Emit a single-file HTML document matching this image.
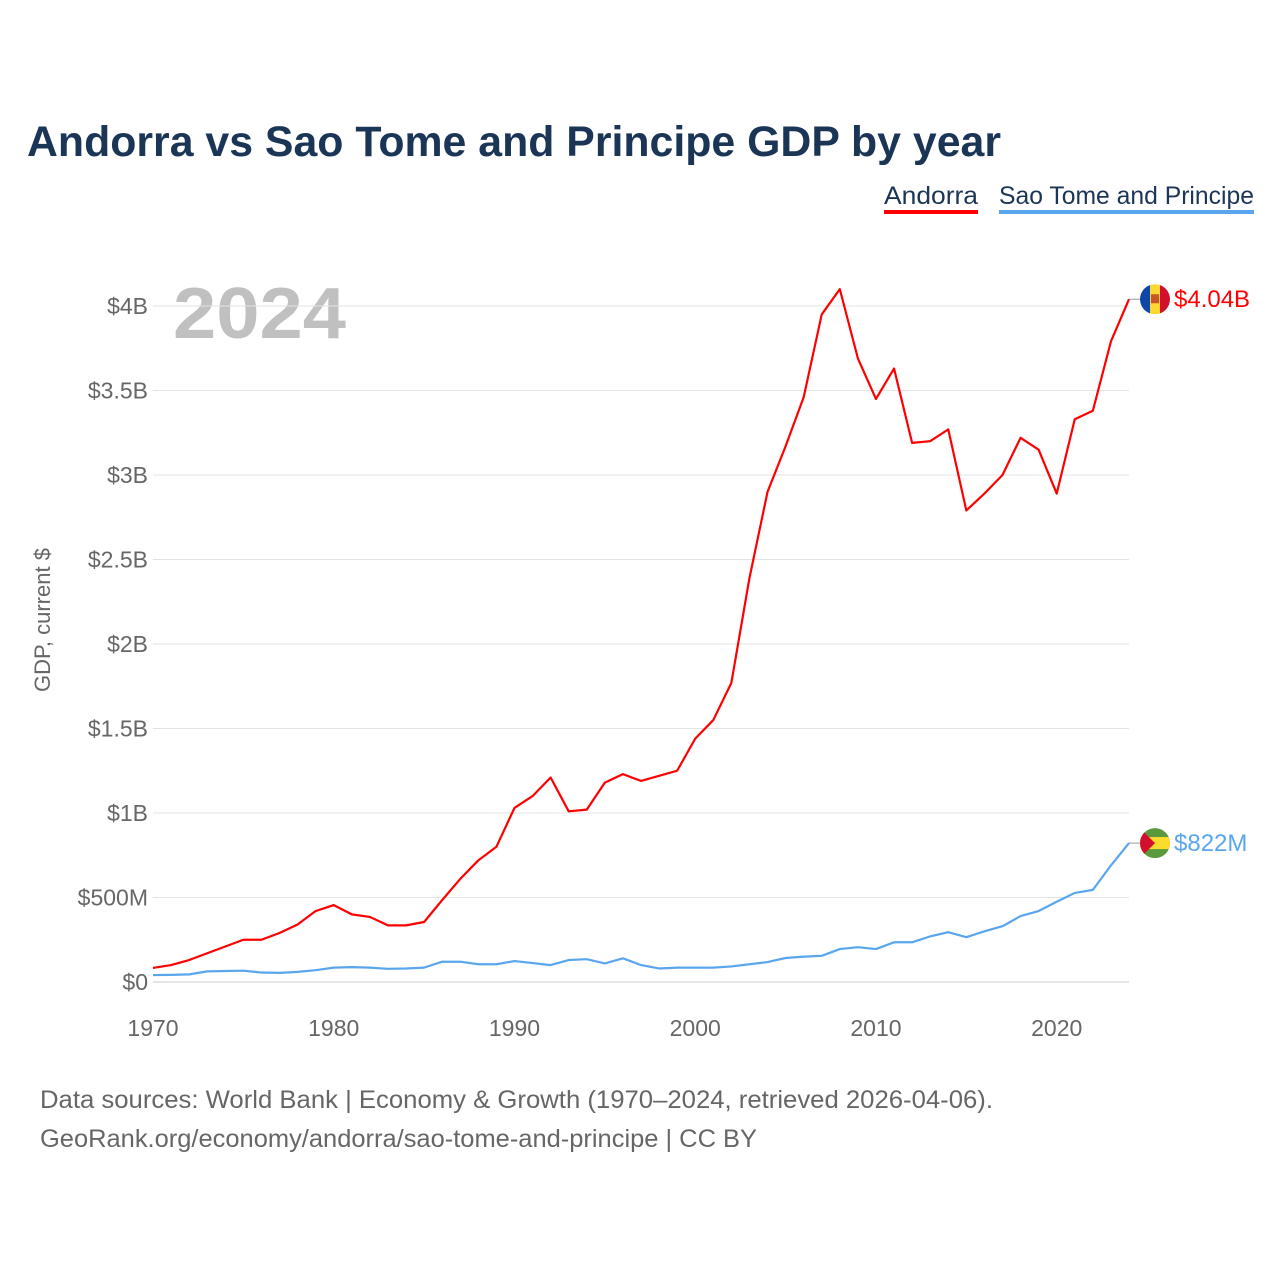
<!DOCTYPE html>
<html><head><meta charset="utf-8"><style>
body{margin:0;background:#fff;width:1280px;height:1280px;overflow:hidden;font-family:"Liberation Sans",sans-serif}
</style></head><body>
<svg width="1280" height="1280" xmlns="http://www.w3.org/2000/svg" font-family="Liberation Sans, sans-serif">
<text x="27" y="156" font-size="43" font-weight="bold" fill="#1b3556" textLength="974" lengthAdjust="spacingAndGlyphs">Andorra vs Sao Tome and Principe GDP by year</text>
<g><text x="884" y="204" font-size="25" fill="#1b3556" textLength="94" lengthAdjust="spacingAndGlyphs">Andorra</text><rect x="884" y="210" width="94" height="4" fill="#f00"/></g>
<g><text x="999" y="204" font-size="25" fill="#1b3556" textLength="255" lengthAdjust="spacingAndGlyphs">Sao Tome and Principe</text><rect x="999" y="210" width="255" height="4" fill="#5aa6ee"/></g>
<text x="173" y="338" font-size="72" font-weight="bold" fill="#c0c0c0" textLength="173" lengthAdjust="spacingAndGlyphs">2024</text>
<text transform="translate(50,620) rotate(-90)" text-anchor="middle" font-size="22" fill="#666">GDP, current $</text>
<g id="grid"></g><g id="series"></g>
<text x="40" y="1108" font-size="25" fill="#666" textLength="953" lengthAdjust="spacingAndGlyphs">Data sources: World Bank | Economy &amp; Growth (1970–2024, retrieved 2026-04-06).</text>
<text x="40" y="1147" font-size="25" fill="#666" textLength="717" lengthAdjust="spacingAndGlyphs">GeoRank.org/economy/andorra/sao-tome-and-principe | CC BY</text>
</svg>
<script>
const years=[];for(let y=1970;y<=2024;y++)years.push(y);
const andorra=[0.083,0.10,0.13,0.17,0.21,0.25,0.25,0.29,0.34,0.42,0.455,0.40,0.385,0.335,0.335,0.355,0.485,0.61,0.72,0.80,1.03,1.10,1.21,1.01,1.02,1.18,1.23,1.19,1.22,1.25,1.44,1.55,1.77,2.39,2.90,3.17,3.46,3.95,4.10,3.69,3.45,3.63,3.19,3.20,3.27,2.79,2.89,3.00,3.22,3.15,2.89,3.33,3.38,3.79,4.04];
const stpM=[41,42,45,63,65,67,56,54,60,70,85,88,85,78,80,85,120,120,105,105,124,112,100,130,135,110,140,100,80,85,85,85,92,105,118,142,150,155,195,206,195,235,235,270,295,265,300,330,390,420,475,527,545,690,822];
const yTicks=[0,0.5,1,1.5,2,2.5,3,3.5,4];
const yTickLabels=["$0","$500M","$1B","$1.5B","$2B","$2.5B","$3B","$3.5B","$4B"];
const xTicks=[1970,1980,1990,2000,2010,2020];
const NS="http://www.w3.org/2000/svg";
const X=y=>153+(y-1970)*(1129-153)/54;
const Y=v=>982-v*169;
function mk(t,a,p){const e=document.createElementNS(NS,t);for(const k in a)e.setAttribute(k,a[k]);p.appendChild(e);return e;}
const g=document.getElementById('grid'),s=document.getElementById('series');
yTicks.forEach((v,i)=>{
 const l=mk('line',{x1:153,x2:1129,y1:Y(v),y2:Y(v),stroke:i?'#e3e3e3':'#ccc','stroke-width':1},g);
 
 
 const t=mk('text',{x:148,y:Y(v)+8,'text-anchor':'end','font-size':23,fill:'#666'},g);t.textContent=yTickLabels[i];
 
 
});
xTicks.forEach(v=>{const t=mk('text',{x:X(v),y:1036,'text-anchor':'middle','font-size':23,fill:'#666'},g);t.textContent=v;
 
 });
function line(vals,col,name){const p=mk('polyline',{points:vals.map((v,i)=>X(years[i])+','+Y(v)).join(' '),fill:'none',stroke:col,'stroke-width':2.2,'stroke-linejoin':'round'},s);
 
 }
line(andorra,'#f00','andorra-line');
line(stpM.map(v=>v/1000),'#5aa6ee','sao-tome-line');
const ay=Y(andorra[andorra.length-1]),sy=Y(stpM[stpM.length-1]/1000);
mk('line',{x1:1129,x2:1140,y1:ay,y2:ay,stroke:'#999'},s);
mk('line',{x1:1129,x2:1140,y1:sy,y2:sy,stroke:'#999'},s);
const fa=mk('g',{},s);
mk('clipPath',{id:'ca'},fa).appendChild(document.createElementNS(NS,'circle'));
const c1=fa.querySelector('circle');c1.setAttribute('cx',1155);c1.setAttribute('cy',ay);c1.setAttribute('r',15);
const ga=mk('g',{'clip-path':'url(#ca)'},fa);
mk('rect',{x:1140,y:ay-15,width:10,height:30,fill:'#1046a8'},ga);
mk('rect',{x:1150,y:ay-15,width:10,height:30,fill:'#fdd835'},ga);
mk('rect',{x:1160,y:ay-15,width:10,height:30,fill:'#d2102e'},ga);
mk('rect',{x:1151,y:ay-5,width:8,height:9,fill:'#c7542a'},ga);
const fs=mk('g',{},s);
mk('clipPath',{id:'cs'},fs).appendChild(document.createElementNS(NS,'circle'));
const c2=fs.querySelector('circle');c2.setAttribute('cx',1155);c2.setAttribute('cy',sy);c2.setAttribute('r',15);
const gs=mk('g',{'clip-path':'url(#cs)'},fs);
mk('rect',{x:1140,y:sy-15,width:30,height:30,fill:'#5b9a3c'},gs);
mk('rect',{x:1140,y:sy-6,width:30,height:12,fill:'#fbdc2c'},gs);
mk('polygon',{points:`1140,${sy-15} 1155,${sy} 1140,${sy+15}`,fill:'#d2102e'},gs);
const la=mk('text',{x:1174,y:ay+8,'font-size':24,fill:'#f00'},s);la.textContent='$4.04B';


const ls=mk('text',{x:1174,y:sy+8,'font-size':24,fill:'#5aa6ee'},s);ls.textContent='$822M';


</script>
</body></html>
